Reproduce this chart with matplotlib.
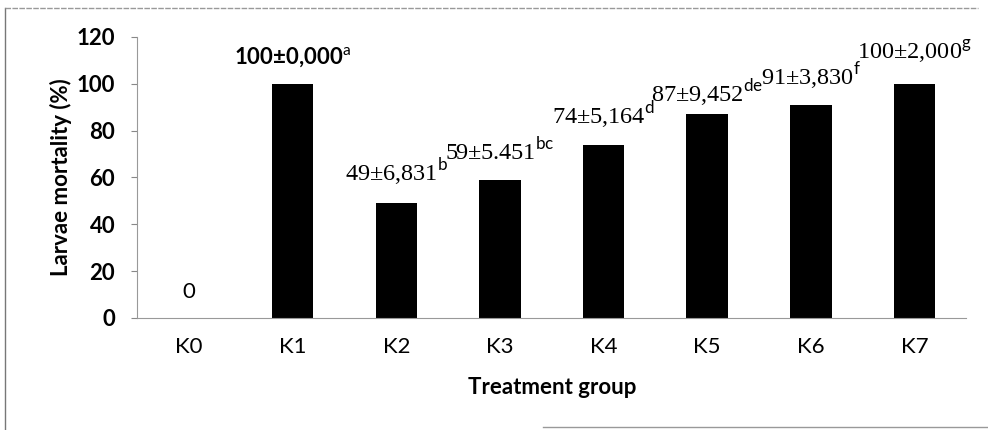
import numpy as np
import matplotlib.pyplot as plt
from matplotlib.lines import Line2D

# Dane
groups = ["K0", "K1", "K2", "K3", "K4", "K5", "K6", "K7"]
mortality = [0, 100, 49, 59, 74, 87, 91, 100]
sd_text = ["", "0,000", "6,831", "5.451", "5,164", "9,452", "3,830", "2,000"]
letters = ["", "a", "b", "bc", "d", "de", "f", "g"]

# Odstęp linii bazowej etykiet od wierzchołka słupka (w punktach)
label_offsets = [14.4, 14.4, 16, 14.4, 15, 8.6, 14.4, 17.3]

plt.rcParams['mathtext.fontset'] = 'custom'
plt.rcParams['mathtext.rm'] = 'Lato'

fig = plt.figure(figsize=(9.88, 4.3), dpi=100)
ax = fig.add_axes([0.139, 0.2605, 0.839, 0.6535])

x = np.arange(len(groups))
ax.bar(x, mortality, width=0.4, color='black')

# Etykiety nad słupkami
for i, (v, sd, let) in enumerate(zip(mortality, sd_text, letters)):
    off = label_offsets[i]
    if i == 0:
        ax.annotate(str(v), (i, v), xytext=(0, off), textcoords='offset points',
                    ha='center', va='baseline', fontsize=16, family='Lato')
    elif i == 1:
        ax.annotate(f"{v}±{sd}" + r"$^{\mathrm{" + let + "}}$", (i, v),
                    xytext=(0, off), textcoords='offset points',
                    ha='center', va='baseline', fontsize=16, family='Lato',
                    fontweight='bold')
    else:
        ax.annotate(f"{v}±{sd}" + r"$^{\mathrm{" + let + "}}$", (i, v),
                    xytext=(0, off), textcoords='offset points',
                    ha='center', va='baseline', fontsize=17.5,
                    family='Liberation Serif')

ax.set_xlim(-0.5, 7.5)
ax.set_ylim(0, 120)
ax.set_yticks(range(0, 121, 20))
ax.set_xticks(x)
ax.set_xticklabels(groups, family='Lato', fontsize=16)
for lab in ax.get_yticklabels():
    lab.set_family('Lato')
    lab.set_fontsize(16)
    lab.set_fontweight('bold')
ax.tick_params(axis='x', length=0, pad=14)
ax.tick_params(axis='y', length=4, color='#888888', pad=12)

ax.spines['top'].set_visible(False)
ax.spines['right'].set_visible(False)
ax.spines['left'].set_color('#999999')
ax.spines['bottom'].set_color('#999999')
ax.spines['left'].set_linewidth(0.8)
ax.spines['bottom'].set_linewidth(0.8)

ax.set_xlabel("Treatment group", family='Lato', fontsize=16,
              fontweight='bold', labelpad=14)
ax.set_ylabel("Larvae mortality (%)", family='Lato', fontsize=16,
              fontweight='bold', labelpad=3)

# Ramka wokół wykresu
fig.add_artist(Line2D([0.005, 0.005], [0.0, 0.981], color='#777777', lw=1))
fig.add_artist(Line2D([0.005, 0.99], [0.981, 0.981], color='#999999', lw=1,
                      linestyle=(0, (4, 1))))
fig.add_artist(Line2D([0.55, 1.0], [0.008, 0.008], color='#999999', lw=1))

fig.savefig("out.png", dpi=100)
